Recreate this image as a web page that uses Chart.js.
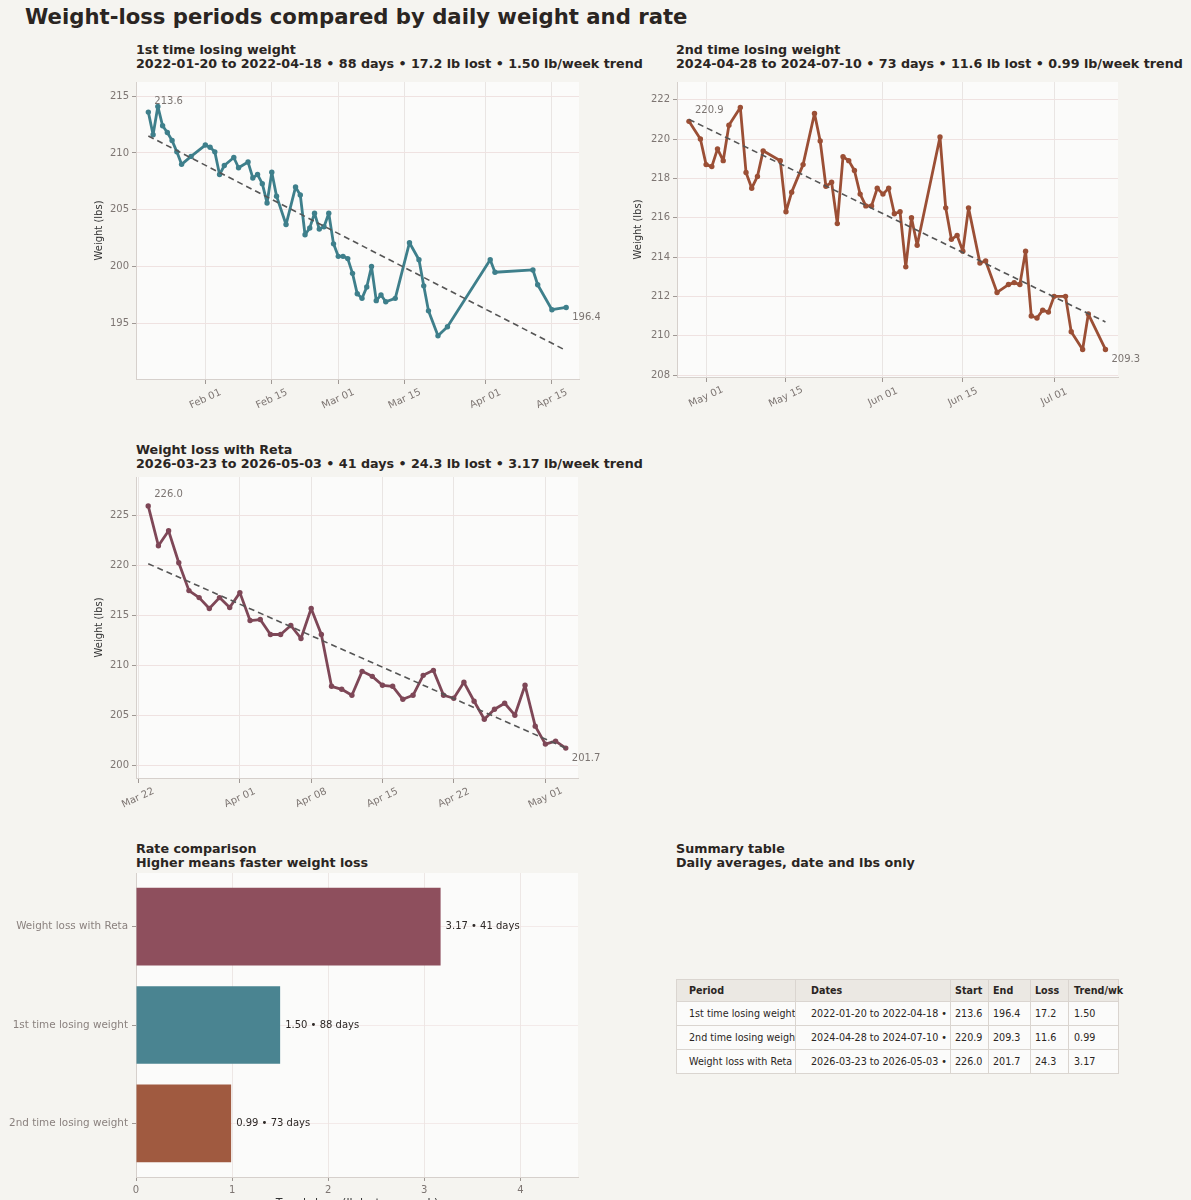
<!DOCTYPE html>
<html>
<head>
<meta charset="utf-8">
<title>Weight-loss periods compared</title>
<script src="https://cdn.jsdelivr.net/npm/chart.js@4.4.1/dist/chart.umd.min.js"></script>
<style>
  html, body { margin: 0; padding: 0; }
  body {
    width: 1191px; height: 1200px; overflow: hidden; position: relative;
    background: #f5f4f0; color: #2a2522;
    font-family: 'DejaVu Sans', sans-serif;
  }
  h1 { position: absolute; left: 25px; top: 4px; margin: 0; font-size: 21.2px; font-weight: bold; white-space: nowrap; }
  .sub { position: absolute; font-size: 12.7px; font-weight: bold; line-height: 14px; white-space: nowrap; }
  canvas { position: absolute; display: block; }
  #summary {
    position: absolute; left: 676px; top: 979px; width: 442px;
    border-collapse: collapse; table-layout: fixed; font-size: 9.6px;
  }
  #summary th, #summary td {
    border: 1px solid #dad5d0; padding: 0; text-align: left;
    white-space: nowrap; overflow: hidden;
  }
  #summary th { background: #ebe8e3; font-weight: bold; height: 21px; }
  #summary td { background: #fbfbfa; height: 23px; }
  #summary th:last-child, #summary td:last-child { overflow: visible; }
</style>
</head>
<body>

<h1>Weight-loss periods compared by daily weight and rate</h1>
<div class="sub" id="t1" style="left:136px;top:43px"></div>
<div class="sub" id="t2" style="left:676px;top:43px"></div>
<div class="sub" id="t3" style="left:136px;top:443px"></div>
<div class="sub" style="left:136px;top:842px">Rate comparison<br>Higher means faster weight loss</div>
<div class="sub" style="left:676px;top:842px">Summary table<br>Daily averages, date and lbs only</div>

<canvas id="c1" width="520" height="350" style="left:80px;top:78px"></canvas>
<canvas id="c2" width="571" height="350" style="left:620px;top:78px"></canvas>
<canvas id="c3" width="520" height="352" style="left:80px;top:473px"></canvas>
<canvas id="c4" width="600" height="341" style="left:0px;top:871px"></canvas>

<table id="summary"></table>

<script>
// ---- periods ----
var periodNames = ["1st time losing weight", "2nd time losing weight", "Weight loss with Reta"];
var dateRanges = ["2022-01-20 to 2022-04-18", "2024-04-28 to 2024-07-10", "2026-03-23 to 2026-05-03"];
var periodDays = [88, 73, 41];
var startWeights = [213.6, 220.9, 226.0];
var endWeights = [196.4, 209.3, 201.7];
var lostLbs = [17.2, 11.6, 24.3];
var trendRates = [1.50, 0.99, 3.17];

// ---- 1st period (day offset from 2022-01-20) ----
var days1 = [0, 1, 2, 3, 4, 5, 6, 7, 9, 12, 13, 14, 15, 16, 18, 19, 21, 22, 23, 24, 25, 26, 27, 29,
    31, 32, 33, 34, 35, 36, 37, 38, 39, 40, 41, 42, 43, 44, 45, 46, 47, 48, 49, 50, 52, 55, 57, 58,
    59, 61, 63, 72, 73, 81, 82, 85, 88];
var weights1 = [213.6, 211.6, 214.1, 212.4, 211.8, 211.1, 210.1, 209.0, 209.7, 210.7, 210.5, 210.1,
    208.1, 208.9, 209.6, 208.7, 209.2, 207.8, 208.1, 207.3, 205.6, 208.3, 206.2, 203.7, 207.0, 206.3,
    202.8, 203.4, 204.7, 203.3, 203.5, 204.7, 202.0, 200.9, 200.9, 200.7, 199.4, 197.6, 197.2, 198.2,
    200.0, 197.0, 197.5, 196.9, 197.2, 202.1, 200.6, 198.3, 196.1, 193.9, 194.7, 200.6, 199.5, 199.7,
    198.4, 196.2, 196.4];
var trend1 = [211.5, 192.6];
var xTicks1 = [12, 26, 40, 54, 71, 85];
var xLabels1 = ["Feb 01", "Feb 15", "Mar 01", "Mar 15", "Apr 01", "Apr 15"];
var yTicks1 = [195, 200, 205, 210, 215];

// ---- 2nd period (day offset from 2024-04-28) ----
var days2 = [0, 2, 3, 4, 5, 6, 7, 9, 10, 11, 12, 13, 16, 17, 18, 20, 22, 23, 24, 25, 26, 27, 28, 29,
    30, 31, 32, 33, 34, 35, 36, 37, 38, 39, 40, 44, 45, 46, 47, 48, 49, 51, 52, 54, 56, 57, 58, 59,
    60, 61, 62, 63, 64, 66, 67, 69, 70, 73];
var weights2 = [220.9, 220.0, 218.7, 218.6, 219.5, 218.9, 220.7, 221.6, 218.3, 217.5, 218.1, 219.4,
    218.9, 216.3, 217.3, 218.7, 221.3, 219.9, 217.6, 217.8, 215.7, 219.1, 218.9, 218.4, 217.2, 216.6,
    216.6, 217.5, 217.2, 217.5, 216.2, 216.3, 213.5, 216.0, 214.6, 220.1, 216.5, 214.9, 215.1, 214.3,
    216.5, 213.7, 213.8, 212.2, 212.6, 212.7, 212.6, 214.3, 211.0, 210.9, 211.3, 211.2, 212.0, 212.0,
    210.2, 209.3, 211.1, 209.3];
var trend2 = [221.0, 210.7];
var xTicks2 = [3, 17, 34, 48, 64];
var xLabels2 = ["May 01", "May 15", "Jun 01", "Jun 15", "Jul 01"];
var yTicks2 = [208, 210, 212, 214, 216, 218, 220, 222];

// ---- Reta period (day offset from 2026-03-23) ----
var days3 = [0, 1, 2, 3, 4, 5, 6, 7, 8, 9, 10, 11, 12, 13, 14, 15, 16, 17, 18, 19, 20, 21, 22, 23,
    24, 25, 26, 27, 28, 29, 30, 31, 32, 33, 34, 35, 36, 37, 38, 39, 40, 41];
var weights3 = [226.0, 222.0, 223.5, 220.3, 217.5, 216.8, 215.7, 216.8, 215.8, 217.3, 214.5, 214.6,
    213.1, 213.1, 214.0, 212.7, 215.7, 213.1, 207.9, 207.6, 207.0, 209.4, 208.9, 208.0, 207.9, 206.6,
    207.0, 209.0, 209.5, 207.0, 206.7, 208.3, 206.4, 204.6, 205.6, 206.2, 205.0, 208.0, 203.9, 202.1,
    202.4, 201.7];
var trend3 = [220.2, 201.7];
var xTicks3 = [-1, 9, 16, 23, 30, 39];
var xLabels3 = ["Mar 22", "Apr 01", "Apr 08", "Apr 15", "Apr 22", "May 01"];
var yTicks3 = [200, 205, 210, 215, 220, 225];

// ---- rate comparison ----
var barCategories = ["Weight loss with Reta", "1st time losing weight", "2nd time losing weight"];
var barRates = [3.17, 1.50, 0.99];
var barDays = [41, 88, 73];
var barTicks = [0, 1, 2, 3, 4];
var barSlots = [0, 1, 2];

var FONT = "'DejaVu Sans', sans-serif";
var PLOT_BG = "#fbfbfa";
var GRID_H = "#efe2e1";
var GRID_V = "#e9e5e3";
var AXIS_C = "#d6d0cc";
var TICK_C = "#9f9894";
var TICK_TXT = "#7d7572";

Chart.defaults.font.family = FONT;

// titles above each line chart
[["t1", 0], ["t2", 1], ["t3", 2]].forEach(function (t) {
    var i = t[1];
    document.getElementById(t[0]).innerHTML = periodNames[i] + "<br>" + dateRanges[i] + " • " +
        periodDays[i] + " days • " + lostLbs[i].toFixed(1) + " lb lost • " +
        trendRates[i].toFixed(2) + " lb/week trend";
});

var plotBg = {
    id: "plotBg",
    beforeDraw: function (chart) {
        var a = chart.chartArea, ctx = chart.ctx;
        ctx.save();
        ctx.fillStyle = PLOT_BG;
        ctx.fillRect(a.left, a.top, a.right - a.left, a.bottom - a.top);
        ctx.restore();
    }
};

// rotated date labels, centred on their tick
var dateLabels = {
    id: "dateLabels",
    afterDraw: function (chart, args, opts) {
        var sc = chart.scales.x, ctx = chart.ctx;
        ctx.save();
        ctx.font = "10px " + FONT;
        ctx.fillStyle = TICK_TXT;
        ctx.textAlign = "center";
        ctx.textBaseline = "middle";
        opts.ticks.forEach(function (v, i) {
            ctx.save();
            ctx.translate(sc.getPixelForValue(v), sc.top + 20);
            ctx.rotate(-25 * Math.PI / 180);
            ctx.fillText(opts.labels[i], 0, 0);
            ctx.restore();
        });
        ctx.restore();
    }
};

// start / end weight next to first and last point
var endLabels = {
    id: "endLabels",
    afterDatasetsDraw: function (chart) {
        var meta = chart.getDatasetMeta(0), data = chart.data.datasets[0].data, ctx = chart.ctx;
        var first = meta.data[0], last = meta.data[meta.data.length - 1];
        ctx.save();
        ctx.font = "10px " + FONT;
        ctx.fillStyle = "#7b7471";
        ctx.textAlign = "left";
        ctx.textBaseline = "middle";
        ctx.fillText(data[0].y.toFixed(1), first.x + 6, first.y - 11);
        ctx.fillText(data[data.length - 1].y.toFixed(1), last.x + 6, last.y + 10);
        ctx.restore();
    }
};

function noLabelPad(s) {
    s.paddingTop = 0;
    s.paddingBottom = 0;
}

function lineChart(id, o) {
    var pts = o.days.map(function (d, i) { return { x: d, y: o.weights[i] }; });
    var n = o.days.length - 1;
    return new Chart(document.getElementById(id), {
        type: "line",
        data: {
            datasets: [{
                data: pts, borderColor: o.color, backgroundColor: o.color,
                borderWidth: 2.8, borderJoinStyle: "round", borderCapStyle: "round",
                pointRadius: 2.7, pointBorderWidth: 0, tension: 0, order: 1
            }, {
                data: [{ x: o.days[0], y: o.trend[0] }, { x: o.days[n], y: o.trend[1] }],
                borderColor: "#555555", borderWidth: 1.6, borderDash: [6, 4], pointRadius: 0, order: 0
            }]
        },
        options: {
            responsive: false,
            animation: false,
            layout: { padding: { top: 2, right: o.padRight, left: 0, bottom: 0 } },
            plugins: {
                legend: { display: false },
                tooltip: { enabled: false },
                dateLabels: { ticks: o.xTicks, labels: o.xLabels }
            },
            scales: {
                x: {
                    type: "linear", min: o.xMin, max: o.xMax,
                    afterBuildTicks: function (s) { s.ticks = o.xTicks.map(function (v) { return { value: v }; }); },
                    afterFit: function (s) { s.height = o.xHeight; s.paddingLeft = 0; s.paddingRight = 0; },
                    ticks: { display: false },
                    grid: { color: GRID_V, tickLength: 5, tickColor: TICK_C },
                    border: { color: AXIS_C }
                },
                y: {
                    min: o.yMin, max: o.yMax,
                    afterBuildTicks: function (s) { s.ticks = o.yTicks.map(function (v) { return { value: v }; }); },
                    afterFit: function (s) { s.width = o.yWidth; noLabelPad(s); },
                    ticks: { font: { size: 10 }, color: TICK_TXT, padding: 3 },
                    grid: { color: GRID_H, tickLength: 4, tickColor: TICK_C },
                    border: { color: AXIS_C },
                    title: {
                        display: true, text: "Weight (lbs)", color: "#333333",
                        font: { size: 10 }, padding: { top: o.titlePad, bottom: 0 }
                    }
                }
            }
        },
        plugins: [plotBg, dateLabels, endLabels]
    });
}

lineChart("c1", {
    days: days1, weights: weights1, trend: trend1, color: "#3e7f8b",
    xTicks: xTicks1, xLabels: xLabels1, yTicks: yTicks1,
    xMin: -2.6, xMax: 90.7, yMin: 190.1, yMax: 216.25,
    yWidth: 56, xHeight: 49, padRight: 21, titlePad: 13
});
lineChart("c2", {
    days: days2, weights: weights2, trend: trend2, color: "#9b4f35",
    xTicks: xTicks2, xLabels: xLabels2, yTicks: yTicks2,
    xMin: -2.1, xMax: 75.2, yMin: 207.9, yMax: 222.9,
    yWidth: 57, xHeight: 51, padRight: 73, titlePad: 12
});
lineChart("c3", {
    days: days3, weights: weights3, trend: trend3, color: "#7e4757",
    xTicks: xTicks3, xLabels: xLabels3, yTicks: yTicks3,
    xMin: -1.2, xMax: 42.2, yMin: 198.7, yMax: 228.9,
    yWidth: 56, xHeight: 47, padRight: 22, titlePad: 13
});

// value labels at the end of each bar
var barLabels = {
    id: "barLabels",
    afterDraw: function (chart) {
        var meta = chart.getDatasetMeta(0), ctx = chart.ctx;
        ctx.save();
        ctx.font = "10px " + FONT;
        ctx.fillStyle = "#2d2826";
        ctx.textAlign = "left";
        ctx.textBaseline = "middle";
        meta.data.forEach(function (bar, i) {
            ctx.fillText(barRates[i].toFixed(2) + " • " + barDays[i] + " days", bar.x + 5, bar.y);
        });
        ctx.restore();
    }
};

new Chart(document.getElementById("c4"), {
    type: "bar",
    data: {
        datasets: [{
            data: barRates.map(function (r, i) { return { x: r, y: barSlots[i] }; }),
            backgroundColor: ["#8e4f5d", "#4a8491", "#a05a40"],
            barPercentage: 0.79, categoryPercentage: 1
        }]
    },
    options: {
        indexAxis: "y",
        responsive: false,
        animation: false,
        layout: { padding: { top: 2, right: 22, left: 0, bottom: 0 } },
        plugins: { legend: { display: false }, tooltip: { enabled: false } },
        scales: {
            x: {
                z: 1, min: 0, max: 4.6,
                afterBuildTicks: function (s) { s.ticks = barTicks.map(function (v) { return { value: v }; }); },
                afterFit: function (s) { s.height = 35; s.paddingLeft = 0; s.paddingRight = 0; },
                ticks: { font: { size: 10 }, color: TICK_TXT, padding: 3 },
                grid: { color: "rgba(232, 224, 222, 0.75)", tickLength: 4, tickColor: TICK_C },
                border: { color: AXIS_C },
                title: {
                    display: true, text: "Trend slope (lb lost per week)", color: "#333333",
                    font: { size: 11 }, padding: { top: 0, bottom: 2 }
                }
            },
            y: {
                type: "linear", reverse: true, min: -0.546, max: 2.546,
                offset: false, z: 1,
                afterBuildTicks: function (s) { s.ticks = barSlots.map(function (v) { return { value: v }; }); },
                afterFit: function (s) { s.width = 136; noLabelPad(s); },
                ticks: {
                    font: { size: 10.4 }, color: "#8a817e", padding: 4,
                    callback: function (v) { return barCategories[v]; }
                },
                grid: { offset: false, color: "rgba(240, 226, 225, 0.7)", tickLength: 4, tickColor: TICK_C },
                border: { color: AXIS_C }
            }
        }
    },
    plugins: [plotBg, barLabels]
});

// summary table
var colHeads = ["Period", "Dates", "Start", "End", "Loss", "Trend/wk"];
var colWidths = [119, 155, 38, 42, 38, 50];
var colPads = [12, 15, 4, 4, 4, 5];
var table = document.getElementById("summary");
var html = "<colgroup>" + colWidths.map(function (w) { return '<col style="width:' + w + 'px">'; }).join("") + "</colgroup>";
html += "<tr>" + colHeads.map(function (h, c) {
    return '<th style="padding-left:' + colPads[c] + 'px">' + h + "</th>";
}).join("") + "</tr>";
for (var r = 0; r < periodNames.length; r++) {
    var cells = [periodNames[r], dateRanges[r] + " • " + periodDays[r] + " days",
        startWeights[r].toFixed(1), endWeights[r].toFixed(1), lostLbs[r].toFixed(1), trendRates[r].toFixed(2)];
    html += "<tr>" + cells.map(function (v, c) {
        return '<td style="padding-left:' + colPads[c] + 'px">' + v + "</td>";
    }).join("") + "</tr>";
}
table.innerHTML = html;
</script>
</body>
</html>
